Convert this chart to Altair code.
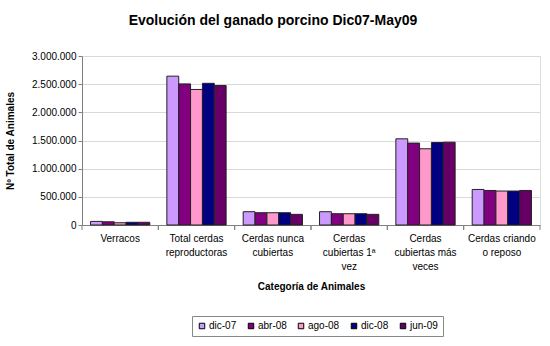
import altair as alt
import pandas as pd

categories = [
    "Verracos",
    "Total cerdas|reproductoras",
    "Cerdas nunca|cubiertas",
    "Cerdas|cubiertas 1ª|vez",
    "Cerdas|cubiertas más|veces",
    "Cerdas criando|o reposo",
]
series = ["dic-07", "abr-08", "ago-08", "dic-08", "jun-09"]
colors = ["#CC99FF", "#800080", "#FF99CC", "#000080", "#660066"]

values = {
    "dic-07": [64000, 2642000, 236000, 236000, 1530000, 631000],
    "abr-08": [57000, 2505000, 218000, 200000, 1454000, 613000],
    "ago-08": [40000, 2406000, 218000, 200000, 1353000, 603000],
    "dic-08": [48000, 2515000, 218000, 200000, 1465000, 603000],
    "jun-09": [48000, 2477000, 189000, 189000, 1470000, 613000],
}

rows = []
for s in series:
    for c, v in zip(categories, values[s]):
        rows.append({"cat": c, "serie": s, "valor": v})
df = pd.DataFrame(rows)
cats_df = pd.DataFrame({"cat": categories})

FONT = "Liberation Sans"

x_enc = alt.X(
    "cat:N",
    sort=categories,
    scale=alt.Scale(paddingInner=0, paddingOuter=0),
    axis=alt.Axis(
        title="Categoría de Animales",
        titleFont=FONT, titleFontSize=10, titleFontWeight="bold", titleColor="#000",
        titlePadding=10,
        labelExpr="split(datum.label, '|')",
        labelAngle=0, labelFont=FONT, labelFontSize=10, labelColor="#000",
        labelLineHeight=14, labelPadding=8, labelLimit=100,
        ticks=False, domainColor="#808080", grid=False,
    ),
)

bars = alt.Chart(df).mark_bar(stroke="#222", strokeWidth=1).encode(
    x=x_enc,
    xOffset=alt.XOffset("serie:N", sort=series,
                        scale=alt.Scale(paddingInner=0, paddingOuter=0.72)),
    y=alt.Y(
        "valor:Q",
        scale=alt.Scale(domain=[0, 3000000]),
        axis=alt.Axis(
            title="Nº Total de Animales",
            titleFont=FONT, titleFontSize=10, titleFontWeight="bold", titleColor="#000",
            titlePadding=16,
            values=[0, 500000, 1000000, 1500000, 2000000, 2500000, 3000000],
            labelExpr="replace(replace(format(datum.value, ',d'), ',', '.'), ',', '.')",
            labelFont=FONT, labelFontSize=10, labelColor="#000",
            tickSize=4, tickColor="#808080", domainColor="#808080",
            gridColor="#d9d9d9", labelPadding=2,
        ),
    ),
    fill=alt.Fill(
        "serie:N",
        sort=series,
        scale=alt.Scale(domain=series, range=colors),
        legend=alt.Legend(
            title=None, orient="none", legendX=110, legendY=260,
            direction="horizontal", columns=5,
            symbolType="square", symbolSize=30,
            symbolStrokeColor="#000", symbolStrokeWidth=1,
            labelFont=FONT, labelFontSize=10, labelColor="#000",
            columnPadding=9, labelOffset=2,
            strokeColor="#888", fillColor="white", padding=5,
        ),
    ),
)

ticks0 = alt.Chart(cats_df).mark_rule(color="#808080").encode(
    x=alt.X("cat:N", sort=categories, bandPosition=0),
    y=alt.value(169), y2=alt.value(174),
)
ticks1 = alt.Chart(cats_df).mark_rule(color="#808080").encode(
    x=alt.X("cat:N", sort=categories, bandPosition=1),
    y=alt.value(169), y2=alt.value(174),
)

chart = alt.layer(bars, ticks0, ticks1).properties(
    width=458,
    height=169,
    title=alt.TitleParams(
        "Evolución del ganado porcino Dic07-May09",
        font=FONT, fontSize=14, fontWeight="bold", color="#000",
        anchor="middle", frame="bounds", offset=23,
    ),
    autosize=alt.AutoSizeParams(type="none"),
    padding={"left": 82, "top": 56, "right": 10, "bottom": 121},
).configure_view(stroke=None).configure(background="white")

chart.save("out.html", embed_options={"renderer": "svg", "actions": False})
